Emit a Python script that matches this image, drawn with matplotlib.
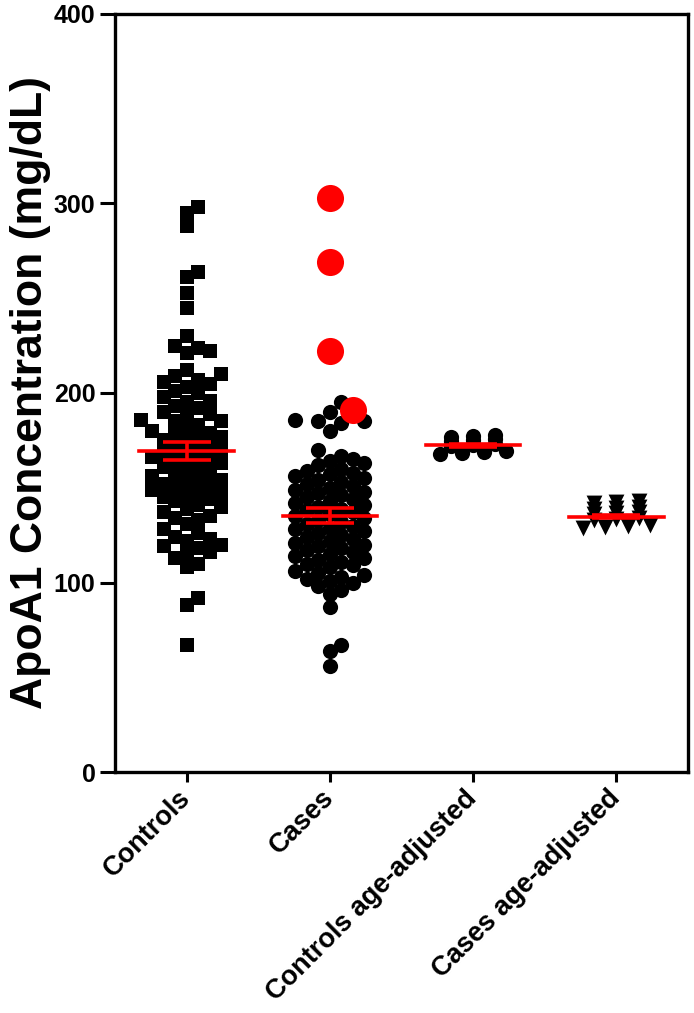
import numpy as np
import matplotlib
matplotlib.use("Agg")
import matplotlib.pyplot as plt

plt.rcParams['font.family'] = ['Liberation Sans', 'DejaVu Sans']
plt.rcParams['font.weight'] = 'bold'

# group names on the x axis
groups = ['Controls', 'Cases', 'Controls age-adjusted', 'Cases age-adjusted']

# ApoA1 values (mg/dL)
controls = [298, 295, 288, 264, 261, 253, 245, 230, 225, 224, 222, 221,
            212, 210, 209, 207, 206, 205, 203, 201, 200, 198, 196, 195, 193,
            192, 190, 189, 188, 186, 185, 185, 183, 181, 180, 179, 178, 177,
            176, 175, 174, 172, 171, 170, 169, 168, 167, 166, 165, 164, 163,
            162, 161, 160, 158, 157, 156, 155, 154, 153, 152, 151, 150, 149,
            148, 147, 146, 145, 144, 143, 141, 140, 139, 137, 135, 134, 133,
            131, 128, 126, 124, 123, 122, 120, 119, 118, 116, 115, 113, 110,
            108, 92, 88, 67]
cases = [195, 190, 186, 185, 185, 184, 180, 170, 167,
         165, 164, 163, 162, 160, 159, 158, 157, 156, 155, 154, 153, 152,
         151, 150, 149, 148, 147, 146, 145, 144, 143, 142, 141, 140, 139,
         138, 137, 136, 135, 134, 133, 132, 131, 130, 129, 128, 127, 126,
         125, 124, 123, 122, 121, 120, 119, 118, 117, 116, 115, 114, 113,
         112, 111, 110, 109, 108, 106, 105, 104, 103, 102, 101, 100, 98,
         96, 94, 87, 67, 64, 56]
cases_red = [303, 269, 222, 191]
controls_adj = [168.0, 168.5, 169.0, 169.5, 172.0, 172.5, 173.0,
                174.5, 175.0, 175.5, 177.0, 177.5, 178.0]
cases_adj = [129.0, 129.5, 130.0, 130.5, 133.0, 133.5, 134.0,
             136.0, 136.5, 137.0, 139.0, 139.5, 140.0, 142.0, 142.5, 143.0]

# mean and SEM shown by the red bars
means = [169.6, 135.3, 172.4, 134.7]
sems = [4.8, 4.0, 0.8, 0.8]

# pixel scale of the axes (used only to lay out the scatter columns)
PX_X = 143.0
PX_Y = 1.895


def beeswarm(values, center, step=11.5, dmin=12.0):
    # greedy swarm: each point goes to the nearest free slot beside the centre
    values = np.asarray(values, dtype=float)
    xs = np.zeros(len(values))
    placed = []
    for i in np.argsort(values):
        y = values[i] * PX_Y
        k = 0
        while True:
            for x in ([0.0] if k == 0 else [k * step, -k * step]):
                if all((x - px) ** 2 + (y - py) ** 2 >= dmin ** 2 for px, py in placed):
                    break
            else:
                k += 1
                continue
            break
        placed.append((x, y))
        xs[i] = center + x / PX_X
    return xs


def rows(values, center, binw, step=0.155):
    # GraphPad-like rows: values in the same bin sit side by side
    values = np.asarray(values, dtype=float)
    xs = np.zeros(len(values))
    bins = np.floor(values / binw)
    for b in np.unique(bins):
        idx = np.where(bins == b)[0]
        n = len(idx)
        xs[idx] = center + (np.arange(n) - (n - 1) / 2) * step
    return xs


fig = plt.figure(figsize=(6.94, 10.13), dpi=100)
ax = fig.add_axes([0.1657, 0.2379, 0.8257, 0.7483])

x0 = beeswarm(controls, 0)
ax.scatter(x0, controls, marker='s', s=115, color='black', linewidths=0, zorder=2)

all_cases = cases + cases_red
x1 = beeswarm(all_cases, 1)
ax.scatter(x1[:len(cases)], cases, marker='o', s=120, color='black', linewidths=0, zorder=2)
ax.scatter(x1[len(cases):], cases_red, marker='o', s=380, color='red', linewidths=0, zorder=3)

x2 = rows(controls_adj, 2, 3)
ax.scatter(x2, controls_adj, marker='o', s=120, color='black', linewidths=0, zorder=2)

x3 = rows(cases_adj, 3, 3)
ax.scatter(x3, cases_adj, marker='v', s=130, color='black', linewidths=0, zorder=2)

# mean line with SEM error bars
for i in range(len(groups)):
    ax.plot([i - 0.33, i + 0.33], [means[i], means[i]], color='red', lw=2.6, zorder=4)
    ax.errorbar(i, means[i], yerr=sems[i], color='red', lw=2.6, capsize=17,
                capthick=2.6, zorder=4)

ax.set_xlim(-0.5, 3.5)
ax.set_ylim(0, 400)
ax.set_yticks([0, 100, 200, 300, 400])
ax.set_xticks(range(len(groups)))
ax.set_xticklabels(groups, rotation=45, ha='right', va='center',
                   rotation_mode='anchor', fontsize=19.5, fontweight='bold')
ax.tick_params(axis='y', length=11, width=2.2, labelsize=18, pad=3)
ax.tick_params(axis='x', length=7, width=2.2, pad=9)
for lab in ax.get_yticklabels():
    lab.set_fontweight('bold')
for sp in ax.spines.values():
    sp.set_linewidth(2.4)

ax.set_ylabel('ApoA1 Concentration (mg/dL)', fontsize=32, fontweight='bold', labelpad=2)

fig.savefig('out.png', dpi=100)
